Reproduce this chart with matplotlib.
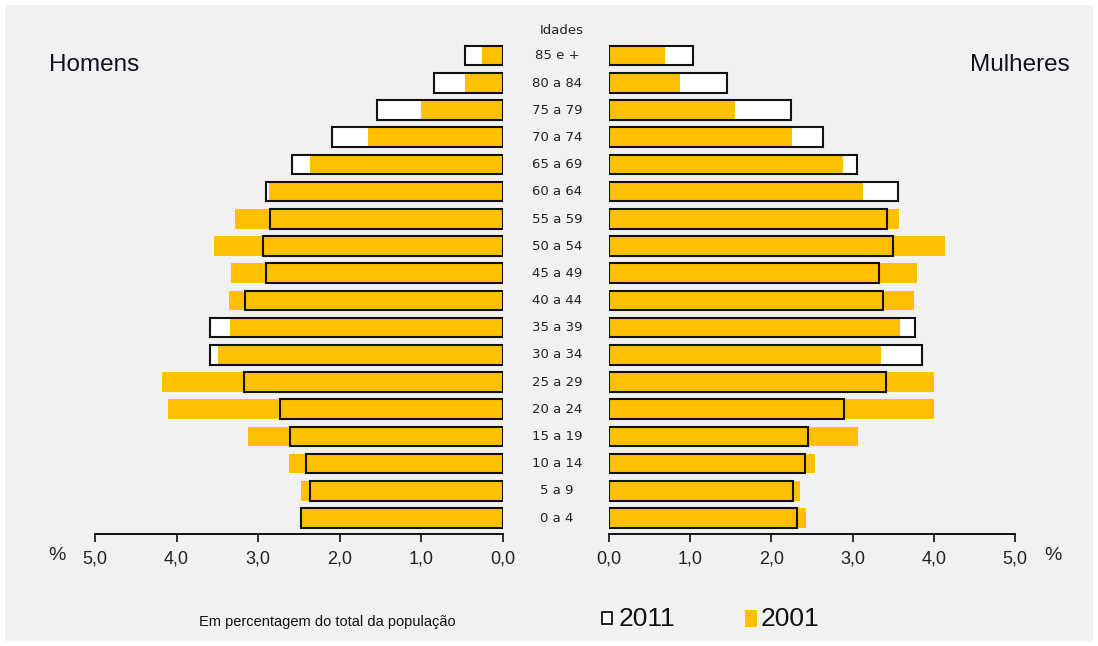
import matplotlib.pyplot as plt
from matplotlib.patches import Rectangle
import numpy as np

idades = ['0 a 4', '5 a 9', '10 a 14', '15 a 19', '20 a 24', '25 a 29', '30 a 34',
          '35 a 39', '40 a 44', '45 a 49', '50 a 54', '55 a 59', '60 a 64',
          '65 a 69', '70 a 74', '75 a 79', '80 a 84', '85 e +']
# valores em % do total da população
homens_2011 = [2.47, 2.36, 2.42, 2.61, 2.73, 3.18, 3.59, 3.59, 3.16, 2.90, 2.94, 2.86,
               2.90, 2.58, 2.10, 1.54, 0.85, 0.47]
homens_2001 = [2.49, 2.48, 2.62, 3.12, 4.11, 4.18, 3.49, 3.34, 3.36, 3.33, 3.54, 3.28,
               2.87, 2.37, 1.66, 1.01, 0.46, 0.26]
mulheres_2011 = [2.32, 2.26, 2.41, 2.45, 2.90, 3.41, 3.85, 3.77, 3.38, 3.33, 3.50, 3.42,
                 3.56, 3.06, 2.64, 2.24, 1.45, 1.04]
mulheres_2001 = [2.42, 2.35, 2.54, 3.07, 4.00, 4.00, 3.35, 3.58, 3.75, 3.79, 4.14, 3.57,
                 3.13, 2.88, 2.25, 1.55, 0.88, 0.69]
ticks = [0, 1, 2, 3, 4, 5]
tick_labels = ['0,0', '1,0', '2,0', '3,0', '4,0', '5,0']

amarelo = '#FFC000'
narrow = ['Liberation Sans Narrow', 'Liberation Sans', 'DejaVu Sans']
sans = ['Liberation Sans', 'DejaVu Sans']

W, H = 1098, 646
fig = plt.figure(figsize=(W / 100, H / 100), dpi=100)
fig.patch.set_facecolor('white')
fig.patches.append(Rectangle((5 / W, 5 / H), 1088 / W, 636 / H, transform=fig.transFigure,
                             facecolor='#f1f1f1', edgecolor='none', zorder=-10))

bottom = 1 - 534 / H
height = 496 / H
ax_h = fig.add_axes([95 / W, bottom, 408 / W, height])
ax_m = fig.add_axes([609 / W, bottom, 406 / W, height])

y = np.arange(len(idades))
h = 0.72
for ax, v11, v01 in [(ax_h, homens_2011, homens_2001), (ax_m, mulheres_2011, mulheres_2001)]:
    ax.set_facecolor('none')
    ax.barh(y, v11, height=h, color='white', edgecolor='none', zorder=1)
    ax.barh(y, v01, height=h, color=amarelo, edgecolor='none', zorder=2)
    ax.barh(y, v11, height=h, color='none', edgecolor='#111111', linewidth=1.5, zorder=3)
    ax.set_ylim(-0.59, 17.65)
    ax.set_yticks([])
    for s in ['left', 'right', 'top']:
        ax.spines[s].set_visible(False)
    ax.spines['bottom'].set_linewidth(1.3)
    ax.set_xticks(ticks)
    ax.set_xticklabels(tick_labels, family=narrow, fontsize=13)
    ax.tick_params(axis='x', length=6, width=1.3, pad=6, colors='#222222')

ax_h.set_xlim(5, 0)
ax_m.set_xlim(0, 5)

for i, lab in enumerate(idades):
    yy = 518 - i * 27.18
    fig.text(557 / W, 1 - yy / H, lab, ha='center', va='center', fontsize=9.5,
             family='DejaVu Sans', color='#222222')
fig.text(562 / W, 1 - 30 / H, 'Idades', ha='center', va='center', fontsize=9.5,
         family='DejaVu Sans', color='#222222')

fig.text(49 / W, 1 - 65 / H, 'Homens', ha='left', va='center', fontsize=17.5, family=sans,
         color='#111122')
fig.text(1070 / W, 1 - 65 / H, 'Mulheres', ha='right', va='center', fontsize=17.5,
         family=sans, color='#111122')
fig.text(57 / W, 1 - 555 / H, '%', ha='center', va='center', fontsize=14, family=narrow,
         color='#222222')
fig.text(1053 / W, 1 - 555 / H, '%', ha='center', va='center', fontsize=14, family=narrow,
         color='#222222')

fig.text(327 / W, 1 - 622 / H, 'Em percentagem do total da população', ha='center',
         va='center', fontsize=10.5, family=narrow, color='#111111')

# legenda
fig.patches.append(Rectangle((602 / W, 1 - 624 / H), 10 / W, 12 / H, transform=fig.transFigure,
                             facecolor='white', edgecolor='#111111', linewidth=1.3))
fig.text(619 / W, 1 - 619 / H, '2011', ha='left', va='center', fontsize=19, family=narrow,
         color='#111111')
fig.patches.append(Rectangle((745 / W, 1 - 627 / H), 12 / W, 17 / H, transform=fig.transFigure,
                             facecolor=amarelo, edgecolor='none'))
fig.text(761 / W, 1 - 619 / H, '2001', ha='left', va='center', fontsize=19, family=narrow,
         color='#111111')

fig.savefig('out.png', dpi=100)
